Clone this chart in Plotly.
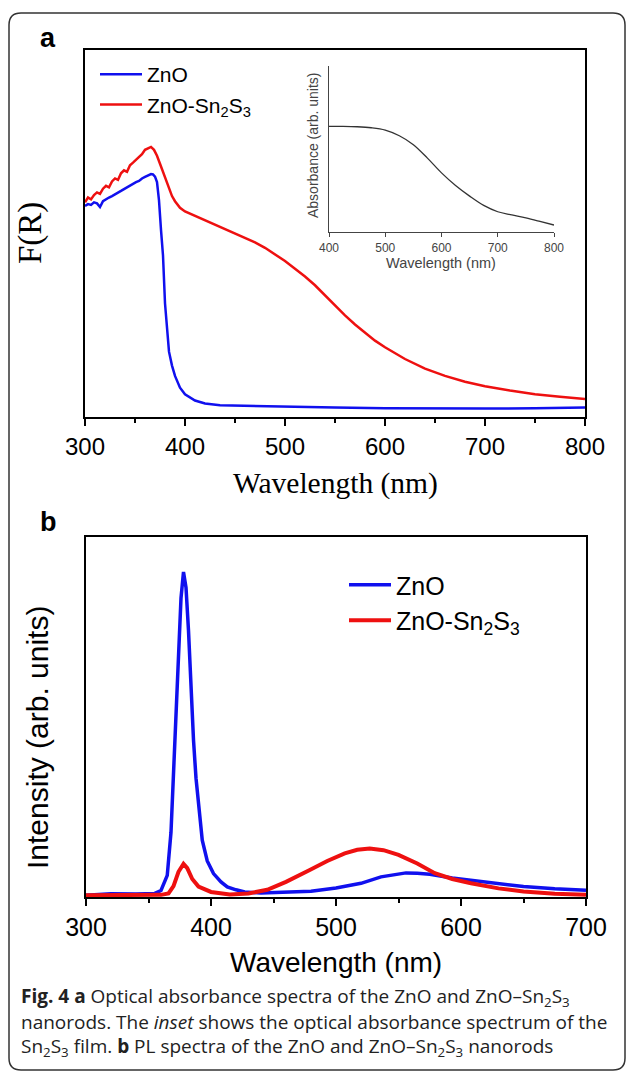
import plotly.graph_objects as go

# ---------------- data: panel a (F(R), normalised to frame height) ----------------
wl_a_zno = [300, 303, 306, 309, 312, 315, 318, 321, 324, 327, 330, 333, 336, 339, 342, 345, 348,
            351, 354, 357, 360, 363, 366, 368, 370, 372, 374, 376, 378, 380, 382, 384, 387, 390,
            395, 400, 410, 420, 435, 450, 500, 550, 600, 650, 700, 750, 800]
fr_zno = [0.575, 0.580, 0.578, 0.585, 0.582, 0.572, 0.588, 0.594, 0.598, 0.602, 0.606, 0.611,
          0.616, 0.621, 0.626, 0.630, 0.634, 0.640, 0.643, 0.650, 0.654, 0.658, 0.662, 0.661,
          0.655, 0.640, 0.590, 0.510, 0.440, 0.310, 0.230, 0.178, 0.140, 0.112, 0.080, 0.062,
          0.045, 0.037, 0.032, 0.031, 0.028, 0.026, 0.024, 0.023, 0.023, 0.024, 0.026]

wl_a_sns = [300, 303, 306, 309, 312, 315, 318, 321, 324, 327, 330, 333, 336, 339, 342, 345, 348,
            351, 354, 357, 360, 363, 366, 369, 372, 375, 378, 381, 384, 387, 390, 395, 400, 410,
            420, 430, 440, 450, 460, 470, 480, 490, 500, 510, 520, 530, 540, 550, 560, 570, 580,
            590, 600, 620, 640, 660, 680, 700, 725, 750, 775, 800]
fr_sns = [0.585, 0.598, 0.593, 0.605, 0.612, 0.608, 0.622, 0.630, 0.626, 0.642, 0.650, 0.646,
          0.664, 0.672, 0.668, 0.686, 0.693, 0.700, 0.708, 0.716, 0.728, 0.732, 0.736, 0.728,
          0.712, 0.690, 0.668, 0.645, 0.622, 0.602, 0.588, 0.570, 0.560, 0.548, 0.537, 0.526,
          0.514, 0.502, 0.490, 0.476, 0.461, 0.444, 0.425, 0.404, 0.383, 0.359, 0.331, 0.303,
          0.277, 0.252, 0.229, 0.208, 0.190, 0.158, 0.132, 0.112, 0.096, 0.084, 0.072, 0.062,
          0.055, 0.049]

# inset: Sn2S3 film absorbance
wl_inset = [400, 425, 450, 475, 500, 525, 550, 575, 600, 625, 650, 675, 700, 725, 750, 775, 800]
abs_inset = [0.636, 0.636, 0.634, 0.628, 0.614, 0.580, 0.526, 0.445, 0.356, 0.280, 0.216,
             0.160, 0.122, 0.103, 0.085, 0.064, 0.042]

# ---------------- data: panel b (PL intensity, arb. units) ----------------
wl_b_zno = [300, 320, 340, 355, 360, 365, 368, 371, 374, 376, 378, 380, 382, 384, 386, 388, 390,
            393, 397, 402, 408, 413, 420, 427, 440, 460, 480, 500, 520, 536, 545, 556, 565, 575,
            593, 620, 650, 675, 700]
pl_zno = [5, 9, 8, 10, 18, 60, 180, 436, 680, 830, 903, 860, 740, 580, 436, 330, 250, 158, 100,
          65, 42, 28, 20, 14, 11, 13, 16, 25, 38, 56, 62, 67, 66, 63, 53, 42, 29, 23, 19]

wl_b_sns = [300, 330, 360, 366, 370, 374, 378, 381, 385, 390, 400, 415, 430, 445, 460, 479, 493,
            507, 517, 527, 538, 550, 565, 579, 593, 608, 630, 650, 675, 700]
pl_sns = [5, 5, 6, 10, 30, 70, 92, 80, 50, 29, 14, 7, 10, 20, 42, 75, 100, 121, 131, 135, 130,
          117, 93, 66, 50, 38, 24, 15, 9, 6]

# ---------------- tick labels ----------------
ticks_a = [300, 400, 500, 600, 700, 800]
ticks_b = [300, 400, 500, 600, 700]
ticks_inset = [400, 500, 600, 700, 800]

W, H = 629, 1081


def px(x):
    return x / W


def py(y):
    return 1 - y / H


BLUE = "#1010ee"
RED = "#ee1010"
SANS = "Liberation Sans, Arial, sans-serif"
SERIF = "Liberation Serif, Times New Roman, serif"

fig = go.Figure()

fig.add_trace(go.Scatter(x=wl_a_zno, y=fr_zno, mode="lines", name="ZnO",
                         line=dict(color=BLUE, width=2.5), xaxis="x", yaxis="y", legend="legend"))
fig.add_trace(go.Scatter(x=wl_a_sns, y=fr_sns, mode="lines", name="ZnO-Sn<sub>2</sub>S<sub>3</sub>",
                         line=dict(color=RED, width=2.5), xaxis="x", yaxis="y", legend="legend"))
fig.add_trace(go.Scatter(x=wl_inset, y=abs_inset, mode="lines", showlegend=False,
                         line=dict(color="#333333", width=1.3, shape="spline"), xaxis="x3", yaxis="y3"))
fig.add_trace(go.Scatter(x=wl_b_zno, y=pl_zno, mode="lines", name="ZnO",
                         line=dict(color=BLUE, width=3.5), xaxis="x2", yaxis="y2", legend="legend2"))
fig.add_trace(go.Scatter(x=wl_b_sns, y=pl_sns, mode="lines", name="ZnO-Sn<sub>2</sub>S<sub>3</sub>",
                         line=dict(color=RED, width=4), xaxis="x2", yaxis="y2", legend="legend2"))

axis_common = dict(showline=True, linecolor="black", linewidth=2, mirror=True,
                   showgrid=False, zeroline=False)

fig.update_layout(
    width=W, height=H, margin=dict(l=0, r=0, t=0, b=0, autoexpand=False),
    paper_bgcolor="white", plot_bgcolor="rgba(0,0,0,0)",
    xaxis=dict(domain=[px(85), px(585)], range=[300, 800], anchor="y",
               tickmode="array", tickvals=ticks_a, ticks="outside", ticklen=7, tickwidth=2,
               tickcolor="black", tickfont=dict(family=SANS, size=24, color="black"),
               minor=dict(dtick=50, tick0=300, ticks="outside", ticklen=4, tickwidth=1.5,
                          tickcolor="black"),
               **axis_common),
    yaxis=dict(domain=[py(417), py(50)], range=[0, 1], anchor="x", showticklabels=False,
               ticks="", **axis_common),
    xaxis2=dict(domain=[px(86), px(586)], range=[300, 700], anchor="y2",
                tickmode="array", tickvals=ticks_b, ticks="outside", ticklen=7, tickwidth=2,
                tickcolor="black", tickfont=dict(family=SANS, size=25, color="black"),
                minor=dict(dtick=50, tick0=300, ticks="outside", ticklen=4, tickwidth=1.5,
                           tickcolor="black"),
                **axis_common),
    yaxis2=dict(domain=[py(897), py(537)], range=[0, 1000], anchor="x2", showticklabels=False,
                ticks="", **axis_common),
    xaxis3=dict(domain=[px(329), px(554)], range=[400, 800], anchor="y3",
                showline=True, linecolor="#444444", linewidth=1.3, showgrid=False, zeroline=False,
                tickmode="array", tickvals=ticks_inset, ticks="outside", ticklen=4,
                tickcolor="#444444", tickfont=dict(family=SANS, size=12, color="#444444")),
    yaxis3=dict(domain=[py(232), py(66)], range=[0, 1], anchor="x3",
                showline=True, linecolor="#444444", linewidth=1.3, showgrid=False, zeroline=False,
                showticklabels=False, ticks=""),
    legend=dict(x=px(95), y=py(54), xanchor="left", yanchor="top",
                bgcolor="rgba(0,0,0,0)", font=dict(family=SANS, size=21, color="black"),
                tracegroupgap=0, itemwidth=42),
    legend2=dict(x=px(344), y=py(562), xanchor="left", yanchor="top",
                 bgcolor="rgba(0,0,0,0)", font=dict(family=SANS, size=25, color="black"),
                 tracegroupgap=0, itemwidth=42),
)

CAP = dict(family="Open Sans, sans-serif", size=19, color="#222222")
annotations = [
    dict(text="<b>a</b>", x=px(38), y=py(38), xanchor="left", yanchor="middle",
         font=dict(family=SANS, size=27, color="black")),
    dict(text="<b>b</b>", x=px(38), y=py(522), xanchor="left", yanchor="middle",
         font=dict(family=SANS, size=27, color="black")),
    dict(text="F(R)", x=px(30), y=py(233), textangle=-90, xanchor="center", yanchor="middle",
         font=dict(family=SERIF, size=33, color="black")),
    dict(text="Wavelength (nm)", x=px(335), y=py(483), xanchor="center", yanchor="middle",
         font=dict(family=SERIF, size=29.5, color="black")),
    dict(text="Absorbance (arb. units)", x=px(313), y=py(145), textangle=-90,
         xanchor="center", yanchor="middle", font=dict(family=SANS, size=14, color="#444444")),
    dict(text="Wavelength (nm)", x=px(441), y=py(263), xanchor="center", yanchor="middle",
         font=dict(family=SANS, size=14.5, color="#444444")),
    dict(text="Intensity (arb. units)", x=px(37), y=py(738), textangle=-90,
         xanchor="center", yanchor="middle", font=dict(family=SANS, size=30, color="black")),
    dict(text="Wavelength (nm)", x=px(336), y=py(962), xanchor="center", yanchor="middle",
         font=dict(family=SANS, size=28, color="black")),
    dict(text="<b>Fig. 4</b> <b>a</b> Optical absorbance spectra of the ZnO and ZnO–Sn<sub>2</sub>S<sub>3</sub>",
         x=px(19), y=py(997), xanchor="left", yanchor="middle", font=CAP),
    dict(text="nanorods. The <i>inset</i> shows the optical absorbance spectrum of the",
         x=px(19), y=py(1022), xanchor="left", yanchor="middle", font=CAP),
    dict(text="Sn<sub>2</sub>S<sub>3</sub> film. <b>b</b> PL spectra of the ZnO and ZnO–Sn<sub>2</sub>S<sub>3</sub> nanorods",
         x=px(19), y=py(1047), xanchor="left", yanchor="middle", font=CAP),
]
for a in annotations:
    a.update(xref="paper", yref="paper", showarrow=False)
fig.update_layout(annotations=annotations)

# outer rounded frame
x0, x1, y0, y1, r = 9, 625, 13, 1070, 12
rx, ry = r / W, r / H
X0, X1, Y0, Y1 = px(x0), px(x1), py(y1), py(y0)
path = (f"M{X0 + rx},{Y1} L{X1 - rx},{Y1} Q{X1},{Y1} {X1},{Y1 - ry} "
        f"L{X1},{Y0 + ry} Q{X1},{Y0} {X1 - rx},{Y0} L{X0 + rx},{Y0} "
        f"Q{X0},{Y0} {X0},{Y0 + ry} L{X0},{Y1 - ry} Q{X0},{Y1} {X0 + rx},{Y1} Z")
fig.add_shape(type="path", path=path, xref="paper", yref="paper",
              line=dict(color="#333333", width=1.5), layer="below")

fig.write_html("out.html")
